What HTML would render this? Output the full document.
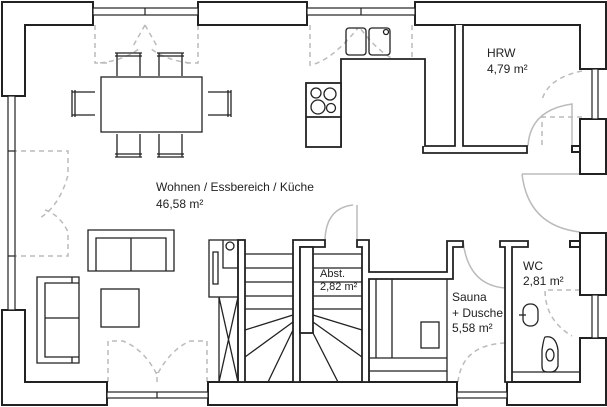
<!DOCTYPE html>
<html><head><meta charset="utf-8"><style>
html,body{margin:0;padding:0;background:#fff}
svg{display:block}
text{font-family:"Liberation Sans",sans-serif;font-size:12px;fill:#222}
</style></head><body>
<svg width="607" height="407" viewBox="0 0 607 407" xmlns="http://www.w3.org/2000/svg">
<g fill="none" stroke="#bbb" stroke-width="1.5" stroke-dasharray="5,4">
 <!-- top-left windows door -->
 <path d="M95,25 V63 H110 M198,25 V63 H183 M145,25 L132,48 M145,25 L158,48 M100,63 Q125,60 140,48 M190,63 Q165,60 150,48"/>
 <path d="M310,25 V65 Q330,62 358,28 M412,25 V65 Q385,62 360,28"/>
 <!-- left door -->
 <path d="M12,151 H68 V175 Q60,205 40,218 M12,256 H68 V232 Q60,215 45,210"/>
 <!-- bottom door -->
 <path d="M108,382 V341 H123 Q145,350 157,375 M207,382 V341 H190 Q170,350 157,375 M157,382 V372"/>
 <!-- HRW door -->
 <path d="M582,117 H542 V146 M582,71 Q548,78 542,100"/>
 <!-- sauna door -->
 <path d="M458,382 Q462,345 505,343 V382"/>
 <!-- WC door -->
 <path d="M580,290 H545 Q545,320 572,336"/>
</g>
<g fill="none" stroke="#bbb" stroke-width="1.5">
 <path d="M522,174 H580 M522,174 Q528,226 580,232"/>
 <path d="M528,146 Q530,110 572,104 V146"/>
 <path d="M325,240 Q326,208 353,205 M357,240 V205"/>
 <path d="M463,241 Q468,285 505,288 V241"/>
</g>
<g fill="#fff" stroke="#222" stroke-width="2">
 <!-- outer walls -->
 <path d="M2,2 H93 V25 H25 V96 H2 Z"/>
 <path d="M198,2 H307 V25 H198 Z"/>
 <path d="M415,2 H606 V69 H580 V25 H415 Z"/>
 <path d="M580,119 H606 V174 H580 Z"/>
 <path d="M572,146 H580 V152 H572 Z"/>
 <path d="M580,233 H606 V295 H580 Z"/>
 <path d="M570,241 H580 V247 H570 Z"/>
 <path d="M580,338 H606 V405 H507 V382 H580 Z"/>
 <path d="M208,382 H457 V405 H208 Z"/>
 <path d="M2,310 H25 V382 H107 V405 H2 Z"/>
</g>
<g fill="#fff" stroke="#222" stroke-width="1.2">
 <!-- windows -->
 <rect x="93" y="8" width="105" height="7"/><line x1="145" y1="8" x2="145" y2="15"/>
 <rect x="307" y="8" width="108" height="7"/><line x1="361" y1="8" x2="361" y2="15"/>
 <rect x="592" y="69" width="6" height="50"/>
 <rect x="592" y="295" width="6" height="43"/>
 <rect x="457" y="392" width="50" height="6"/>
 <rect x="107" y="392" width="101" height="6"/><line x1="157" y1="392" x2="157" y2="398"/>
 <rect x="8" y="96" width="7" height="214"/><line x1="8" y1="151" x2="15" y2="151"/><line x1="8" y1="256" x2="15" y2="256"/>
</g>
<g fill="#fff" stroke="#222" stroke-width="1.8">
 <!-- HRW walls -->
 <path d="M455,25 V146 H423 V153 H527 V146 H463 V25"/>
 <!-- kitchen counter -->
 <path d="M341,147 V59 H425 V146"/>
 <rect x="306" y="83" width="35" height="64"/>
 <line x1="306" y1="117" x2="341" y2="117"/>
 <!-- stairs walls -->
 <rect x="238" y="240" width="7" height="142"/>
 <path d="M293,382 V240 H325 V247 H300 V382 Z"/>
 <rect x="300" y="247" width="13" height="86"/>
 <path d="M362,382 V247 H357 V240 H369 V272 H447 V241 H463 V247 H453 V279 H369 V382 Z"/>
 <path d="M505,382 V247 H500 V241 H528 V247 H512 V382 Z"/>
</g>
<g fill="none" stroke="#222" stroke-width="1.3">
 <path d="M245,254 H293 M245,268 H293 M245,282 H293 M245,296 H293 M245,309 H293 M293,315 L245,330 M293,322 L245,357 M293,330 L268,382"/>
 <path d="M313,254 H362 M313,268 H362 M313,282 H362 M313,296 H362 M313,309 H362 M313,315 L362,330 M313,322 L362,357 M313,333 L338,382"/>
 <!-- washer -->
 <rect x="209" y="240" width="29" height="57"/>
 <path d="M213,252 V284 H218 V252 Z M223,240 V268 H238"/>
 <circle cx="230" cy="246" r="4"/>
 <path d="M219,297 V382 M238,297 V382 M219,297 L238,382 M238,297 L219,382"/>
 <!-- sauna benches -->
 <path d="M369,279 V382 M376,279 V358 M392,279 V358 M369,358 H447 M369,371 H447 M447,279 V382"/>
 <rect x="421" y="322" width="18" height="26"/>
 <!-- WC -->
 <path d="M512,372 H580"/>
 <rect x="523" y="304" width="15" height="22" rx="7"/>
 <path d="M519,315 H526"/>
 <path d="M545,337 Q556,335 558,350 V366 Q556,372 551,372 H547 Q542,372 542,366 V350 Q544,337 545,337 Z"/>
 <ellipse cx="550" cy="355" rx="4" ry="6"/>
 <!-- sink -->
 <rect x="346" y="28" width="20" height="27" rx="3"/>
 <rect x="369" y="28" width="21" height="27" rx="3"/>
 <circle cx="386" cy="32" r="2.5"/>
 <!-- hob -->
 <circle cx="316" cy="93" r="5"/><circle cx="330" cy="94" r="6"/><circle cx="318" cy="107" r="7"/><circle cx="331" cy="108" r="4.5"/>
 <!-- table & chairs -->
 <rect x="101" y="77" width="101" height="55"/>
 <path d="M117,76 V53 H140 V76 M115,53 H142 M115,56 H142"/>
 <path d="M159,76 V53 H182 V76 M157,53 H184 M157,56 H184"/>
 <path d="M117,134 V157 H140 V134 M115,157 H142 M115,154 H142"/>
 <path d="M159,134 V157 H182 V134 M157,157 H184 M157,154 H184"/>
 <path d="M95,92 H72 V115 H95 M72,90 V117 M75,90 V117"/>
 <path d="M208,92 H231 V115 H208 M231,90 V117 M228,90 V117"/>
 <!-- sofas -->
 <path d="M88,230 H174 V271 H88 Z M96,271 V238 H166 V271 M131,238 V271"/>
 <path d="M37,277 H79 V363 H37 Z M79,283 H45 V357 H79 M45,318 H79 M72,277 V283 M72,357 V363"/>
 <rect x="101" y="289" width="38" height="38"/>
</g>
<text x="156" y="191">Wohnen / Essbereich / Küche</text>
<text x="156" y="208">46,58 m²</text>
<text x="487" y="57">HRW</text>
<text x="487" y="73">4,79 m²</text>
<text x="320" y="277" style="font-size:11px">Abst.</text>
<text x="320" y="290" style="font-size:11px">2,82 m²</text>
<text x="452" y="301">Sauna</text>
<text x="452" y="317">+ Dusche</text>
<text x="452" y="332">5,58 m²</text>
<text x="523" y="270">WC</text>
<text x="523" y="285">2,81 m²</text>
</svg>
</body></html>
